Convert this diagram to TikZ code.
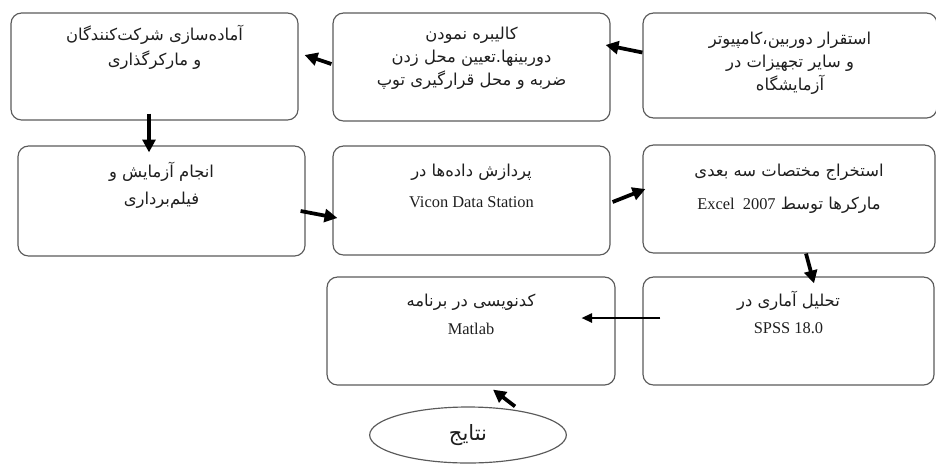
\documentclass[tikz,border=0pt]{standalone}
\usepackage{fontspec}
\setmainfont{Liberation Serif}
\newfontfamily\arabicfont[Script=Arabic]{DejaVu Sans}
\TeXXeTstate=1
\usepackage{xcolor}
\usepackage{tikz}
\usetikzlibrary{
  arrows.meta,
  positioning,
  shapes.geometric,
  calc
}
\definecolor{BoxLine}{HTML}{5A5A5A}
\definecolor{LabelInk}{HTML}{1E1E1E}
\newcommand{\latinpart}[1]{{\rmfamily\fontsize{14}{17}\selectfont #1}}
\tikzset{
  stagebox/.style={
    draw=BoxLine,
    line width=1pt,
    rounded corners=9pt
  },
  fatext/.style={
    align=center,
    inner sep=0pt,
    text=LabelInk,
    font=\arabicfont\fontsize{14}{17}\selectfont
  },
  resultnode/.style={
    ellipse,
    draw=BoxLine,
    line width=1pt,
    inner sep=0pt,
    minimum width=5.9cm,
    minimum height=1.68cm,
    text=LabelInk,
    font=\arabicfont\fontsize{18}{20}\selectfont
  },
  flow/.style={
    -{Triangle[length=11pt,width=11pt]},
    line width=3.2pt
  },
  thinflow/.style={
    -{Triangle[length=9pt,width=8pt]},
    line width=1.5pt
  }
}

\begin{document}
\begin{tikzpicture}[
  x=0.03cm,
  y=-0.03cm
]

  \useasboundingbox (0,0) rectangle (936,466);

  % row 1
  \node[
    stagebox,
    minimum width=8.82cm,
    minimum height=3.15cm
  ] (camsetup) at (790,65.5) {};

  \node[
    stagebox,
    minimum width=8.31cm,
    minimum height=3.24cm
  ] (calib) at (471.5,67) {};

  \node[
    stagebox,
    minimum width=8.61cm,
    minimum height=3.21cm
  ] (prep) at (154.5,66.5) {};

  % row 2
  \node[
    stagebox,
    minimum width=8.61cm,
    minimum height=3.3cm
  ] (trial) at (161.5,201) {};

  \node[
    stagebox,
    minimum width=8.31cm,
    minimum height=3.27cm
  ] (vicon) at (471.5,200.5) {};

  \node[
    stagebox,
    minimum width=8.76cm,
    minimum height=3.24cm
  ] (coords) at (789,199) {};

  % row 3
  \node[
    stagebox,
    minimum width=8.64cm,
    minimum height=3.24cm
  ] (matlab) at (471,331) {};

  \node[
    stagebox,
    minimum width=8.73cm,
    minimum height=3.24cm
  ] (spss) at (788.5,331) {};

  \node[
    resultnode
  ] (results) at (468,435) {
    \beginR نتایج\endR
  };

  % texts
  \node[
    fatext,
    below=0.58cm of camsetup.north
  ] (camsetuptext) {
    \beginR استقرار دوربین،کامپیوتر\endR\\[2.5pt]
    \beginR و سایر تجهیزات در\endR\\[2.5pt]
    \beginR آزمایشگاه\endR
  };

  \node[
    fatext,
    below=0.42cm of calib.north
  ] (calibtext) {
    \beginR کالیبره نمودن\endR\\[3pt]
    \beginR دوربینها.تعیین محل زدن\endR\\[3pt]
    \beginR ضربه و محل قرارگیری توپ\endR
  };

  \node[
    fatext,
    below=0.38cm of prep.north
  ] (preptext) {
    \beginR آماده\char"200Cسازی شرکت\char"200Cکنندگان\endR\\[4pt]
    \beginR و مارکرگذاری\endR
  };

  \node[
    fatext,
    below=0.48cm of trial.north
  ] (trialtext) {
    \beginR انجام آزمایش و\endR\\[6pt]
    \beginR فیلم\char"200Cبرداری\endR
  };

  \node[
    fatext,
    below=0.56cm of vicon.north
  ] (vicontext) {
    \beginR پردازش داده\char"200Cها در\endR\\[9pt]
    \latinpart{Vicon Data Station}
  };

  \node[
    fatext,
    below=0.58cm of coords.north
  ] (coordstext) {
    \beginR استخراج مختصات سه بعدی\endR\\[11pt]
    \beginR مارکرها توسط \beginL\latinpart{Excel\ \ 2007}\endL\endR
  };

  \node[
    fatext,
    below=0.52cm of matlab.north
  ] (matlabtext) {
    \beginR کدنویسی در برنامه\endR\\[7pt]
    \latinpart{Matlab}
  };

  \node[
    fatext,
    below=0.44cm of spss.north
  ] (spsstext) {
    \beginR تحلیل آماری در\endR\\[6pt]
    \latinpart{SPSS 18.0}
  };

  % connectors
  \draw[flow]
  ($(camsetup.west)+(0,-13)$) --
  ($(calib.east)+(-5,-22)$);

  \draw[flow]
  ($(calib.west)+(-1,-3)$) --
  ($(prep.east)+(6,-11.5)$);

  \draw[flow]
  ($(prep.south)+(-5.5,-7)$) --
  ($(trial.north)+(-12.5,7)$);

  \draw[flow]
  ($(trial.east)+(-5,10)$) --
  ($(vicon.west)+(5,17.5)$);

  \draw[flow]
  ($(vicon.east)+(2,1.5)$) --
  ($(coords.west)+(3,-10)$);

  \draw[flow]
  ($(coords.south)+(17,0)$) --
  ($(spss.north)+(25.5,7)$);

  \draw[thinflow]
  ($(spss.west)+(18,-13)$) --
  ($(matlab.east)+(-34,-13)$);

  \draw[flow]
  ($(results.north)+(47,0)$) --
  ($(matlab.south)+(22,4)$);

\end{tikzpicture}
\end{document}
